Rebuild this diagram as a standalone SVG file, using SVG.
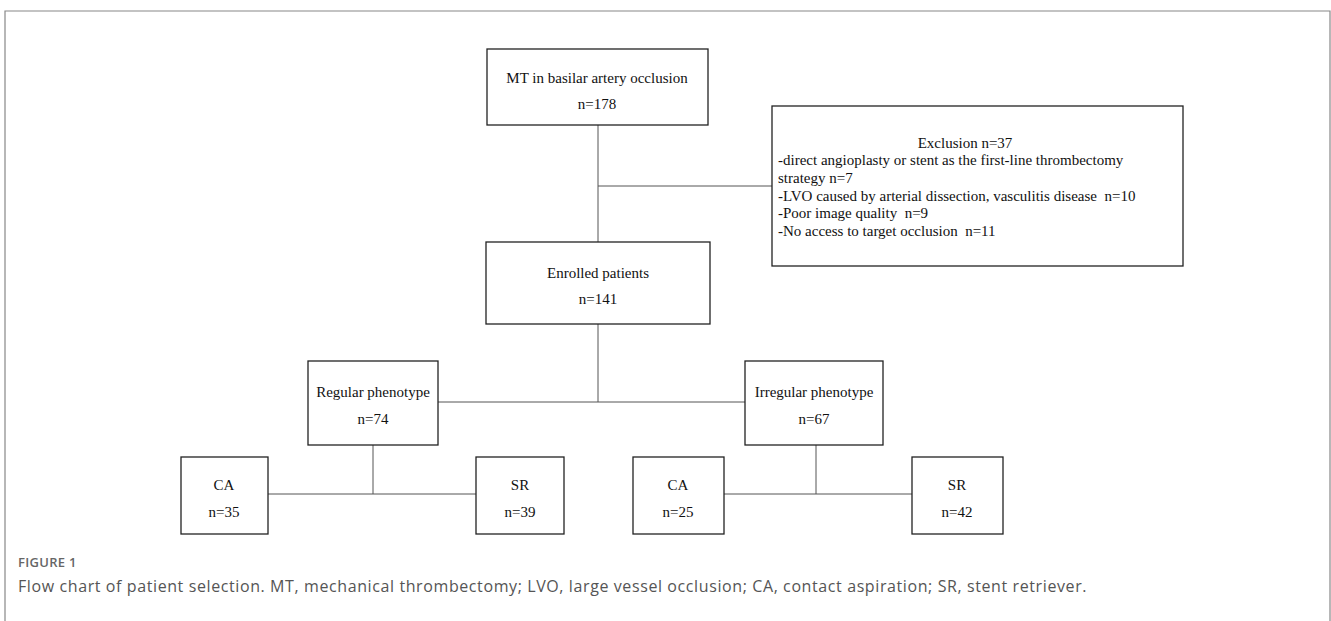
<svg xmlns="http://www.w3.org/2000/svg" width="1331" height="621" viewBox="0 0 1331 621">
<style>
.box{fill:#fff;stroke:#222;stroke-width:1.3}
.t{font-family:"Liberation Serif","Times New Roman",serif;font-size:15px;fill:#111;text-anchor:middle}
.tl{font-family:"Liberation Serif","Times New Roman",serif;font-size:15px;fill:#111;white-space:pre}
.conn line{stroke:#555;stroke-width:1}
.frame{stroke:#888;stroke-width:1.2;fill:none}
.cap1{font-family:"Open Sans","Noto Sans",sans-serif;font-size:13px;font-weight:600;fill:#666;letter-spacing:0.3px}
.cap2{font-family:"Open Sans","Noto Sans",sans-serif;font-size:16px;fill:#555;letter-spacing:0.6px}
</style>
<polyline class="frame" points="5,621 5,11 1330,11 1330,621"/>
<g class="conn">
<line x1="598" y1="125" x2="598" y2="242"/>
<line x1="598" y1="186" x2="772" y2="186"/>
<line x1="598" y1="324" x2="598" y2="402"/>
<line x1="438" y1="402" x2="745" y2="402"/>
<line x1="373" y1="445" x2="373" y2="494"/>
<line x1="268" y1="494" x2="476" y2="494"/>
<line x1="816" y1="445" x2="816" y2="494"/>
<line x1="724" y1="494" x2="912" y2="494"/>
</g>
<g id="mt">
<rect class="box" x="487" y="49" width="221" height="76"/>
<text class="t" x="597" y="83">MT in basilar artery occlusion</text>
<text class="t" x="597" y="109">n=178</text>
</g>
<g id="exclusion">
<rect class="box" x="772" y="106" width="411" height="160"/>
<text class="t" x="965" y="148">Exclusion n=37</text>
<text class="tl" x="778" y="165">-direct angioplasty or stent as the first-line thrombectomy</text>
<text class="tl" x="778" y="183">strategy n=7</text>
<text class="tl" x="778" y="201" xml:space="preserve">-LVO caused by arterial dissection, vasculitis disease  n=10</text>
<text class="tl" x="778" y="218" xml:space="preserve">-Poor image quality  n=9</text>
<text class="tl" x="778" y="236" xml:space="preserve">-No access to target occlusion  n=11</text>
</g>
<g id="enrolled">
<rect class="box" x="486" y="242" width="224" height="82"/>
<text class="t" x="598" y="278">Enrolled patients</text>
<text class="t" x="598" y="304">n=141</text>
</g>
<g id="regular">
<rect class="box" x="308" y="361" width="130" height="84"/>
<text class="t" x="373" y="397">Regular phenotype</text>
<text class="t" x="373" y="424">n=74</text>
</g>
<g id="irregular">
<rect class="box" x="745" y="361" width="138" height="84"/>
<text class="t" x="814" y="397">Irregular phenotype</text>
<text class="t" x="814" y="424">n=67</text>
</g>
<g id="ca1">
<rect class="box" x="181" y="457" width="87" height="77"/>
<text class="t" x="224" y="490">CA</text>
<text class="t" x="224" y="517">n=35</text>
</g>
<g id="sr1">
<rect class="box" x="476" y="457" width="88" height="77"/>
<text class="t" x="520" y="490">SR</text>
<text class="t" x="520" y="517">n=39</text>
</g>
<g id="ca2">
<rect class="box" x="633" y="457" width="91" height="77"/>
<text class="t" x="678" y="490">CA</text>
<text class="t" x="678" y="517">n=25</text>
</g>
<g id="sr2">
<rect class="box" x="912" y="457" width="91" height="77"/>
<text class="t" x="957" y="490">SR</text>
<text class="t" x="957" y="517">n=42</text>
</g>
<text class="cap1" x="18" y="567">FIGURE 1</text>
<text class="cap2" x="18" y="592">Flow chart of patient selection. MT, mechanical thrombectomy; LVO, large vessel occlusion; CA, contact aspiration; SR, stent retriever.</text>
</svg>
